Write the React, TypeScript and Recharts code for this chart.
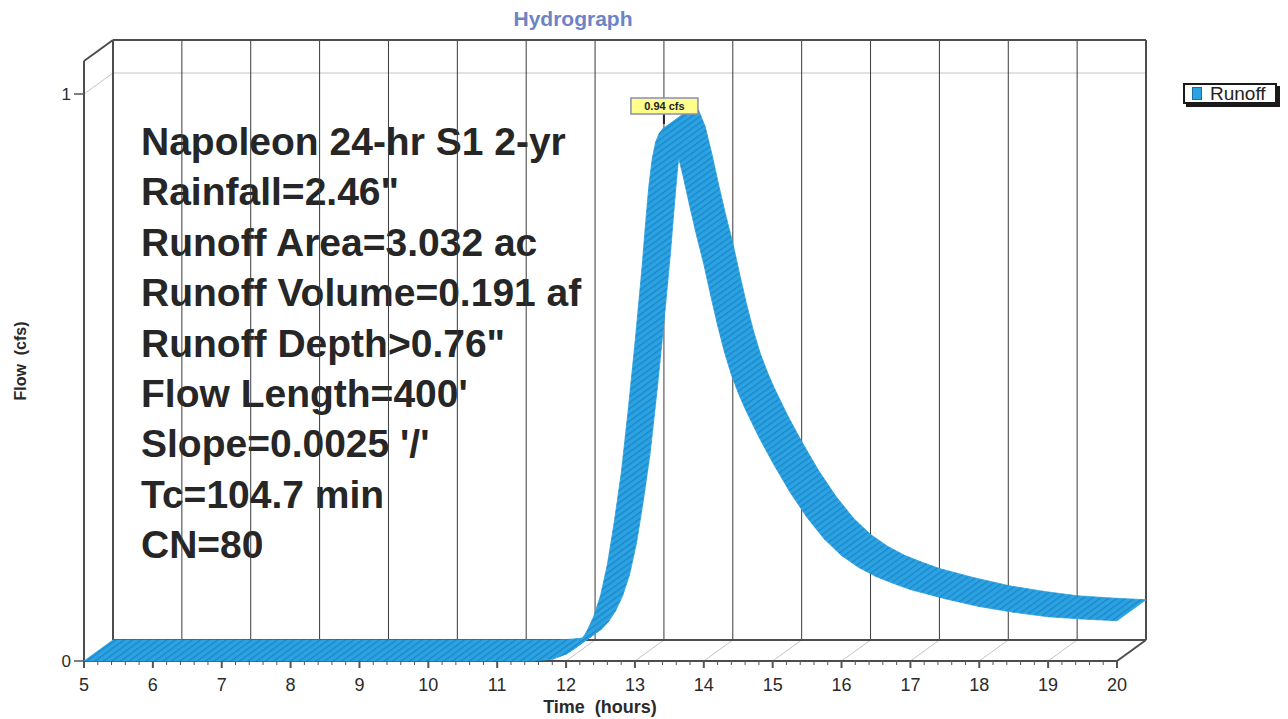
import React from 'react';
import { ComposedChart, Line, XAxis, YAxis } from 'recharts';

// hydrograph (front edge of the ribbon)
const hours = [
  5, 6, 7, 8, 9, 10, 11, 11.5, 11.8, 12.0, 12.1, 12.2, 12.3, 12.4, 12.5, 12.6, 12.7,
  12.8, 12.9, 13.0, 13.05, 13.1, 13.15, 13.2, 13.25, 13.3, 13.35, 13.4, 13.45, 13.5,
  13.6, 13.7, 13.8, 13.9, 14.0, 14.1, 14.2, 14.3, 14.4, 14.5, 14.6, 14.8, 15.0,
  15.25, 15.5, 15.75, 16.0, 16.25, 16.5, 16.75, 17.0, 17.5, 18.0, 18.5, 19.0, 19.5, 20.0,
];
const runoffCfs = [
  0, 0, 0, 0, 0, 0, 0, 0, 0.003, 0.012, 0.02, 0.033, 0.052, 0.078, 0.115, 0.17, 0.245,
  0.33, 0.44, 0.56, 0.625, 0.69, 0.765, 0.835, 0.885, 0.915, 0.93, 0.938, 0.94, 0.935,
  0.905, 0.855, 0.8, 0.748, 0.7, 0.645, 0.592, 0.545, 0.505, 0.473, 0.445, 0.395, 0.35,
  0.298, 0.253, 0.215, 0.186, 0.165, 0.149, 0.137, 0.126, 0.11, 0.096, 0.086, 0.078, 0.074, 0.071,
];
const hourTicks = [5, 6, 7, 8, 9, 10, 11, 12, 13, 14, 15, 16, 17, 18, 19, 20];
const flowTicks = [0, 1];
const seriesName = 'Runoff';
const chartTitle = 'Hydrograph';
const xTitle = 'Time\u00a0 (hours)';
const yTitle = 'Flow\u00a0 (cfs)';
const infoLines = [
  'Napoleon 24-hr S1 2-yr',
  'Rainfall=2.46"',
  'Runoff Area=3.032 ac',
  'Runoff Volume=0.191 af',
  'Runoff Depth>0.76"',
  "Flow Length=400'",
  "Slope=0.0025 '/'",
  'Tc=104.7 min',
  'CN=80',
];

const FONT = '"Liberation Sans", Arial, Helvetica, sans-serif';
const RIBBON = '#2ba2e2';
const RIBBON_DARK = '#1b86c8';
const FRAME = '#4d4d4d';
const FAINT = '#c4c4c4';

// 3d depth of the box, in pixels and in data units
const PX_PER_HOUR = 1033 / 15;
const PX_PER_CFS = 567;
const DEPTH_X = 29;
const DEPTH_Y = 21;
const DT = DEPTH_X / PX_PER_HOUR;
const DQ = DEPTH_Y / PX_PER_CFS;
const WALL_TOP = 600 / PX_PER_CFS;

const data = hours.map((t, i) => ({ t, q: runoffCfs[i] }));

const minorTicks = hourTicks.flatMap((h) =>
  h === hourTicks[hourTicks.length - 1]
    ? [h]
    : [0, 1, 2, 3, 4].map((k) => Math.round((h + k / 5) * 10) / 10)
);

const seg = (t1: number, q1: number, t2: number, q2: number) => [
  { t: t1, q: q1 },
  { t: t2, q: q2 },
];

const first = hourTicks[0];
const last = hourTicks[hourTicks.length - 1];
const inner = hourTicks.slice(1, -1);

const faintSegs = [
  ...inner.map((h) => seg(h, 0, h + DT, DQ)),
  seg(first + DT, 1 + DQ, last + DT, 1 + DQ),
  seg(first, 1, first + DT, 1 + DQ),
];
const wallSegs = inner.map((h) => seg(h + DT, DQ, h + DT, WALL_TOP + DQ));
const boxSegs = [
  seg(first + DT, DQ, last + DT, DQ),
  seg(first + DT, DQ, first + DT, WALL_TOP + DQ),
  seg(first + DT, WALL_TOP + DQ, last + DT, WALL_TOP + DQ),
  seg(last + DT, DQ, last + DT, WALL_TOP + DQ),
  seg(first, 0, last, 0),
  seg(first, 0, first, WALL_TOP),
  seg(first, WALL_TOP, first + DT, WALL_TOP + DQ),
  seg(last, 0, last + DT, DQ),
];

const HourTick = (props: any) => {
  const { x, y, payload } = props;
  const v = payload.value;
  const major = Math.abs(v - Math.round(v)) < 1e-6;
  return (
    <g>
      <line x1={x} x2={x} y1={y} y2={y + (major ? 7 : 4)} stroke="#555" strokeWidth={major ? 2 : 1} />
      {major && (
        <text x={x} y={y + 30} textAnchor="middle" fontSize={18} fill="#2a2a2a">
          {Math.round(v)}
        </text>
      )}
    </g>
  );
};

const FlowTick = (props: any) => {
  const { x, y, payload } = props;
  return (
    <g>
      <line x1={x - 10} x2={x} y1={y} y2={y} stroke="#555" strokeWidth={1.5} />
      <text x={x - 13} y={y} dy="0.35em" textAnchor="end" fontSize={17} fill="#2a2a2a">
        {payload.value}
      </text>
    </g>
  );
};

// draws the whole ribbon from the line's points (front edge + depth offset)
const Ribbon = (props: any) => {
  const { index, points } = props;
  if (index !== 0 || !points) return <g key={`rb-${index}`} />;
  const quads = [];
  for (let i = 0; i < points.length - 1; i++) {
    const a = points[i];
    const b = points[i + 1];
    const d = `M${a.x},${a.y}L${b.x},${b.y}L${b.x + DEPTH_X},${b.y - DEPTH_Y}L${a.x + DEPTH_X},${a.y - DEPTH_Y}Z`;
    quads.push(<path key={i} d={d} fill="url(#ribbonHatch)" stroke="url(#ribbonHatch)" strokeWidth={0.8} />);
  }
  let pk = points[0];
  points.forEach((p: any) => {
    if (p.value > pk.value) pk = p;
  });
  return (
    <g key="rb-0">
      <defs>
        <pattern id="ribbonHatch" patternUnits="userSpaceOnUse" width={10} height={5} patternTransform="rotate(-36)">
          <rect width={10} height={5} fill={RIBBON} />
          <rect width={10} height={1.3} fill={RIBBON_DARK} />
        </pattern>
      </defs>
      {quads}
      <line x1={pk.x - 2} x2={pk.x - 2} y1={pk.y - 14} y2={pk.y - 4} stroke="#222" strokeWidth={2} />
      <rect x={pk.x - 35} y={pk.y - 30} width={67} height={16} fill="#ffff8c" stroke="#8c8cb4" strokeWidth={1.5} />
      <text x={pk.x - 1.5} y={pk.y - 22} dy="0.35em" textAnchor="middle" fontSize={11} fontWeight="bold" fill="#222">
        {`${pk.value.toFixed(2)} cfs`}
      </text>
    </g>
  );
};

const frameLine = (pts: any[], key: string, color: string, w: number) => (
  <Line
    key={key}
    data={pts}
    dataKey="q"
    stroke={color}
    strokeWidth={w}
    dot={false}
    activeDot={false}
    legendType="none"
    isAnimationActive={false}
  />
);

export default function App() {
  return (
    <div style={{ position: 'absolute', left: 0, top: 0, width: 1288, height: 719, fontFamily: FONT, background: '#fff' }}>
      <div
        style={{
          position: 'absolute',
          left: 573,
          top: 8,
          transform: 'translateX(-50%)',
          fontSize: 21,
          lineHeight: '21px',
          fontWeight: 'bold',
          color: '#6c84c6',
        }}
      >
        {chartTitle}
      </div>
      <div
        style={{
          position: 'absolute',
          left: 141,
          top: 117,
          fontSize: 39,
          lineHeight: '50.4px',
          fontWeight: 'bold',
          color: '#262626',
          whiteSpace: 'pre',
        }}
      >
        {infoLines.map((l) => (
          <div key={l}>{l}</div>
        ))}
      </div>
      <div
        style={{
          position: 'absolute',
          left: 21,
          top: 361,
          transform: 'translate(-50%, -50%) rotate(-90deg)',
          fontSize: 16,
          fontWeight: 'bold',
          color: '#2a2a2a',
          whiteSpace: 'pre',
        }}
      >
        {yTitle}
      </div>
      <div
        style={{
          position: 'absolute',
          left: 600,
          top: 707,
          transform: 'translate(-50%, -50%)',
          fontSize: 18,
          fontWeight: 'bold',
          color: '#2a2a2a',
          whiteSpace: 'pre',
        }}
      >
        {xTitle}
      </div>
      <div
        style={{
          position: 'absolute',
          left: 1183,
          top: 83,
          height: 17,
          display: 'flex',
          alignItems: 'center',
          padding: '0 9px 0 7px',
          border: '2px solid #1a1a1a',
          boxShadow: '3px 3px 0 #1a1a1a',
          background: '#fff',
          fontSize: 19,
          color: '#222',
        }}
      >
        <span style={{ width: 8, height: 11, background: RIBBON, border: '1px solid #1a6fa8', marginRight: 8 }} />
        {seriesName}
      </div>
      <div style={{ position: 'absolute', left: 0, top: 0 }}>
        <ComposedChart width={1288} height={719} data={data} margin={{ top: 40, right: 142, bottom: 0, left: 0 }}>
          <XAxis
            dataKey="t"
            type="number"
            domain={[first, last + DT]}
            ticks={minorTicks}
            interval={0}
            tick={<HourTick />}
            tickSize={0}
            tickMargin={0}
            axisLine={false}
            tickLine={false}
            height={58}
          />
          <YAxis
            type="number"
            domain={[0, WALL_TOP + DQ]}
            ticks={flowTicks}
            interval={0}
            tick={<FlowTick />}
            tickSize={0}
            tickMargin={0}
            axisLine={false}
            tickLine={false}
            width={84}
          />
          {faintSegs.map((s, i) => frameLine(s, `f${i}`, FAINT, 1))}
          {wallSegs.map((s, i) => frameLine(s, `w${i}`, '#3a3a3a', 1))}
          {boxSegs.map((s, i) => frameLine(s, `b${i}`, FRAME, 2))}
          <Line
            dataKey="q"
            name={seriesName}
            type="linear"
            stroke="none"
            fill={RIBBON}
            dot={<Ribbon />}
            activeDot={false}
            isAnimationActive={false}
          />
        </ComposedChart>
      </div>
    </div>
  );
}
